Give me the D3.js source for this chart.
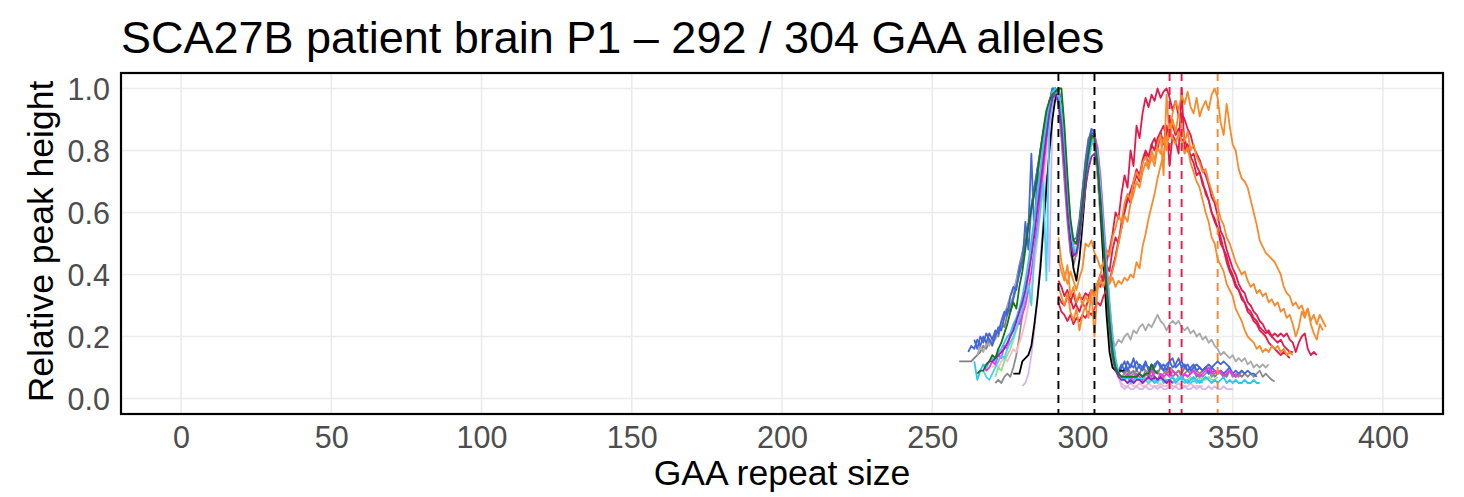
<!DOCTYPE html>
<html>
<head>
<meta charset="utf-8">
<script src="https://cdn.jsdelivr.net/npm/d3@7"></script>
<style>
  html, body { margin: 0; padding: 0; background: #ffffff; }
  svg { display: block; }
</style>
</head>
<body>
<svg id="chart" width="1464" height="497"></svg>
<script>
// ---------------- DATA ----------------
const titleText = "SCA27B patient brain P1 \u2013 292 / 304 GAA alleles";
const xLabel = "GAA repeat size";
const yLabel = "Relative peak height";
const xTickValues = [0, 50, 100, 150, 200, 250, 300, 350, 400];
const yTickValues = [0, 0.2, 0.4, 0.6, 0.8, 1.0];

// reference allele sizes (dashed vertical lines)
const blackAlleles = [292, 304];
const redAlleles = [329, 333];
const orangeAlleles = [345];

// each trace: first repeat size, then one relative height per repeat
const grey1X0 = 259;
const grey1 = [0.12,0.12,0.12,0.12,0.12,0.13,0.14,
  0.15,0.17,0.16,0.19,0.18,0.21,0.20,0.24,0.23,0.27,
  0.30,0.33,0.38,0.43,0.47,0.52,0.56,0.62,0.68,0.74,
  0.80,0.86,0.91,0.96,1.00,0.98,0.95,0.84,0.70,0.57,
  0.47,0.43,0.47,0.56,0.67,0.77,0.84,0.85,0.82,0.72,
  0.58,0.44,0.31,0.20,0.13,0.09,0.08,
  0.09,0.08,0.10,0.08,0.09,0.07,0.08,0.10,0.09,0.08,
  0.07,0.09,0.08,0.10,0.09,0.08,0.09,0.07,0.08,0.09,
  0.08,0.10,0.09,0.08,0.09,0.07,0.08,0.09,0.10,0.08,
  0.09,0.07,0.08,0.09,0.08,0.07,0.09,0.08,0.07,0.08,0.07,0.08];

const grey2X0 = 265;
const grey2 = [0.14,0.17,0.15,0.18,0.17,0.20,0.19,0.22,0.24,0.27,0.30,
  0.33,0.35,0.38,0.42,0.46,0.51,0.56,0.61,0.67,0.72,
  0.78,0.84,0.89,0.94,0.98,1.00,0.97,0.88,0.74,0.60,
  0.50,0.46,0.48,0.55,0.65,0.74,0.81,0.84,0.81,0.73,
  0.60,0.47,0.35,0.25,0.19,
  0.17,0.19,0.18,0.20,0.21,0.19,0.22,0.21,0.23,0.24,
  0.22,0.24,0.23,0.25,0.27,0.25,0.24,0.22,0.24,0.25,
  0.24,0.25,0.23,0.22,0.23,0.21,0.22,0.20,0.21,0.19,
  0.20,0.18,0.19,0.17,0.16,0.14,0.15,0.14,0.13,0.14,
  0.12,0.13,0.12,0.13,0.11,0.12,0.10,0.11,0.10,0.11,0.10,0.11];

const grey3X0 = 271;
const grey3 = [0.05,0.06,0.05,0.07,0.08,0.07,0.10,0.14,0.20,0.27,
  0.34,0.40,0.47,0.55,0.63,0.71,0.79,0.87,0.93,0.98,
  1.00,0.97,0.90,0.78,0.64,0.53,0.47,0.46,0.51,0.60,
  0.69,0.77,0.82,0.83,0.78,0.66,0.52,0.39,0.27,0.17,
  0.11,0.08,0.07,0.08,0.09,0.07,0.08,0.09,0.08,0.07,
  0.09,0.08,0.10,0.08,0.09,0.07,0.08,0.09,0.10,0.09,
  0.08,0.09,0.07,0.08,0.09,0.08,0.10,0.09,0.08,0.07,
  0.08,0.09,0.07,0.08,0.09,0.08,0.07,0.08,0.09,0.07,
  0.08,0.07,0.09,0.08,0.07,0.08,0.07,0.08,0.09,0.07,0.08,0.07,0.06,0.055];

const blue1X0 = 262;
const blue1 = [0.15,0.17,0.16,0.19,0.17,0.20,0.18,0.21,0.19,0.22,
  0.21,0.25,0.28,0.27,0.33,0.36,0.35,0.42,0.45,0.50,
  0.55,0.79,0.52,0.74,0.62,0.80,0.86,0.95,1.00,1.00,
  0.96,0.88,0.76,0.64,0.55,0.50,0.50,0.56,0.66,0.76,
  0.83,0.87,0.86,0.78,0.64,0.50,0.37,0.25,0.15,0.10,
  0.09,0.11,0.09,0.12,0.10,0.13,0.09,0.11,0.10,0.12,
  0.09,0.11,0.10,0.12,0.11,0.09,0.11,0.12,0.10,0.11,
  0.13,0.10,0.11,0.09,0.10,0.11,0.09,0.10,0.09,0.10,
  0.08,0.10,0.09,0.08,0.09,0.08,0.09,0.10,0.08,0.09,0.08,0.09,0.08,0.09,0.08,0.08,0.07];

const blue2X0 = 264;
const blue2 = [0.19,0.16,0.20,0.18,0.21,0.19,0.17,0.20,0.23,0.22,
  0.26,0.29,0.28,0.32,0.36,0.40,0.44,0.57,0.48,0.62,
  0.68,0.74,0.80,0.86,0.91,0.96,0.99,1.00,0.97,0.89,
  0.77,0.65,0.56,0.51,0.52,0.58,0.67,0.75,0.82,0.86,
  0.85,0.77,0.63,0.49,0.36,0.24,0.14,0.09,0.08,0.10,
  0.12,0.09,0.11,0.10,0.12,0.10,0.09,0.11,0.10,0.09,
  0.11,0.12,0.10,0.11,0.09,0.12,0.13,0.10,0.11,0.12,
  0.10,0.11,0.09,0.10,0.11,0.10,0.09,0.10,0.11,0.10,0.11,0.12,0.11,0.12,0.11,0.10];

const greenX0 = 265;
const green = [0.08,0.09,0.09,0.11,0.12,0.14,0.13,0.16,0.18,0.21,
  0.24,0.28,0.31,0.29,0.36,0.41,0.48,0.56,0.61,0.66,
  0.72,0.80,0.87,0.93,0.96,0.98,0.99,1.00,1.00,0.88,
  0.72,0.58,0.51,0.50,0.55,0.63,0.72,0.79,0.85,0.84,
  0.76,0.63,0.49,0.36,0.24,0.15,0.10,0.08,0.07,0.07,
  0.07,0.07,0.07,0.07,0.08,0.07,0.08,0.08,0.11,0.09,0.08];

const purpleX0 = 268;
const purple = [0.11,0.12,0.12,0.13,0.14,0.15,0.16,0.18,0.20,0.22,
  0.25,0.28,0.31,0.35,0.40,0.46,0.53,0.61,0.69,0.77,
  0.85,0.92,0.97,0.98,0.96,0.88,0.75,0.60,0.50,0.46,
  0.47,0.52,0.60,0.68,0.74,0.78,0.79,0.75,0.64,0.50,
  0.37,0.25,0.15,0.09,0.07,0.06,0.06,0.05,0.06,0.05,
  0.06,0.06,0.05,0.06,0.07,0.06,0.07,0.06,0.07,0.06,0.05,0.06,0.05];

const cyan1X0 = 264;
const cyan1 = [0.12,0.06,0.09,0.11,0.10,0.12,0.13,0.12,0.15,0.16,
  0.18,0.20,0.21,0.24,0.26,0.29,0.33,0.38,0.44,0.51,
  0.58,0.66,0.74,0.82,0.89,0.95,0.99,1.00,0.98,0.91,
  0.80,0.66,0.55,0.48,0.47,0.52,0.61,0.70,0.78,0.83,
  0.83,0.78,0.67,0.54,0.41,0.29,0.19,0.12,0.08,0.07,
  0.06,0.07,0.05,0.06,0.07,0.06,0.05,0.06,0.07,0.06,
  0.05,0.06,0.07,0.05,0.06,0.06,0.07,0.05,0.06,0.07,
  0.06,0.05,0.06,0.07,0.06,0.05,0.06,0.07,0.06,0.05,
  0.06,0.05,0.06,0.07,0.05,0.06,0.05,0.06,0.05,0.05,0.06,0.05,0.05,0.06,0.05,0.05];

const cyan2X0 = 267;
const cyan2 = [0.09,0.07,0.06,0.08,0.10,0.12,0.14,0.13,0.16,0.18,
  0.20,0.23,0.26,0.29,0.33,0.37,0.30,0.47,0.53,0.61,
  0.70,0.38,0.89,0.95,0.99,1.00,0.94,0.83,0.68,0.56,
  0.49,0.47,0.51,0.60,0.69,0.77,0.82,0.83,0.79,0.68,
  0.55,0.42,0.30,0.20,0.13,0.08,0.07,0.06,0.07,0.06,
  0.05,0.06,0.06,0.07,0.06,0.05,0.06,0.06,0.05,0.07,
  0.06,0.05,0.06,0.05,0.06,0.07,0.06,0.05,0.06,0.05,0.06,0.05,0.06,0.05];

const magentaX0 = 267;
const magenta = [0.11,0.09,0.10,0.12,0.11,0.14,0.13,0.17,0.16,0.21,
  0.22,0.25,0.24,0.27,0.30,0.35,0.41,0.48,0.56,0.65,
  0.74,0.83,0.91,0.96,0.99,0.98,0.92,0.80,0.67,0.56,
  0.50,0.50,0.55,0.63,0.72,0.79,0.84,0.85,0.81,0.71,
  0.57,0.43,0.30,0.19,0.12,0.08,0.07,0.07,0.08,0.06,
  0.07,0.08,0.07,0.06,0.08,0.07,0.09,0.07,0.06,0.08,
  0.07,0.08,0.07,0.09,0.08,0.07,0.06,0.08,0.07,0.08,
  0.09,0.08,0.07,0.08,0.09,0.10,0.08,0.09,0.08,0.09,0.07,0.08,0.09,0.08,0.07,0.08];

const pinkX0 = 270;
const pink = [0.10,0.11,0.10,0.12,0.13,0.12,0.14,0.16,0.15,0.18,
  0.21,0.25,0.30,0.36,0.43,0.51,0.60,0.69,0.78,0.87,
  0.94,0.98,0.99,0.93,0.81,0.67,0.56,0.50,0.50,0.55,
  0.63,0.71,0.78,0.83,0.84,0.80,0.70,0.57,0.44,0.31,
  0.20,0.12,0.07,0.05,0.04,0.04,0.05,0.04,0.04,0.05,
  0.04,0.04,0.05,0.04,0.04,0.04,0.05,0.04,0.04,0.05,
  0.04,0.04,0.05,0.04,0.04,0.04,0.05,0.04,0.04,0.04,0.04];

const thistleX0 = 280;
const thistle = [0.04,0.05,0.08,0.14,0.22,0.32,0.45,0.58,0.72,0.41,
  0.93,0.97,0.98,0.93,0.82,0.68,0.57,0.51,0.50,0.54,
  0.62,0.70,0.77,0.82,0.84,0.81,0.72,0.59,0.46,0.32,
  0.21,0.13,0.07,0.04,0.03,0.04,0.03,0.03,0.04,0.03,
  0.03,0.04,0.03,0.03,0.04,0.03,0.04,0.03,0.03,0.04,
  0.03,0.04,0.03,0.03,0.04,0.03,0.03,0.04,0.03,0.04,0.03,0.03,0.04,0.03,0.04,0.03,0.03,0.04,0.03,0.03,0.03];

const blackX0 = 277;
const black = [0.08,0.08,0.08,0.12,0.13,0.14,0.17,0.24,0.32,0.42,
  0.55,0.68,0.80,0.90,0.97,1.00,0.95,0.84,0.68,0.52,
  0.42,0.38,0.45,0.56,0.68,0.78,0.84,0.85,0.78,0.62,
  0.44,0.27,0.15,0.10,0.09,0.09,0.09,0.09];

const lightgreenX0 = 271;
const lightgreen = [0.07,0.10,0.09,0.12,0.14,0.16,0.19,0.22,0.25,0.29,
  0.34,0.40,0.47,0.55,0.63,0.72,0.81,0.88,0.94,0.98,
  1.00,0.98,0.91,0.80,0.66,0.55,0.49,0.49,0.54,0.62,
  0.71,0.78,0.83,0.84,0.79,0.68,0.55,0.42,0.29,0.18,
  0.11,0.07,0.06,0.06,0.07,0.06,0.06,0.07,0.06,0.06,
  0.07,0.06,0.06,0.07,0.06,0.06,0.07,0.06,0.06,0.07,0.06,0.06,0.07,0.06,0.06,0.07,0.06,0.06,0.07,0.06,0.06,0.07,0.06,0.06,0.07];

const redAX0 = 292;
const redA = [0.33,0.31,0.30,0.33,0.32,0.29,0.31,0.33,0.32,0.34,
  0.33,0.35,0.34,0.37,0.40,0.38,0.44,0.48,0.53,0.60,
  0.58,0.66,0.72,0.68,0.80,0.75,0.88,0.84,0.92,0.97,
  0.94,0.98,0.96,1.00,0.97,0.99,1.00,0.97,0.93,0.96,
  0.91,0.92,0.90,0.87,0.85,0.81,0.79,0.77,0.74,0.72,
  0.69,0.65,0.63,0.59,0.54,0.52,0.48,0.45,0.42,0.40,
  0.37,0.35,0.34,0.31,0.30,0.28,0.27,0.25,0.24,0.22,
  0.21,0.20,0.19,0.18,0.19,0.17,0.16,0.15,0.15];

const redBX0 = 292;
const redB = [0.38,0.36,0.33,0.35,0.31,0.34,0.30,0.28,0.31,0.29,
  0.32,0.35,0.33,0.37,0.36,0.40,0.43,0.41,0.48,0.52,
  0.50,0.57,0.61,0.65,0.63,0.69,0.72,0.70,0.76,0.79,
  0.75,0.82,0.80,0.84,0.86,0.82,0.88,0.75,0.85,0.83,
  0.79,1.00,0.80,0.82,0.78,0.76,0.72,0.73,0.69,0.67,
  0.64,0.60,0.58,0.55,0.50,0.48,0.44,0.41,0.39,0.36,
  0.35,0.32,0.31,0.28,0.27,0.25,0.24,0.22,0.21,0.20,
  0.18,0.17,0.16,0.15,0.14,0.15,0.14,0.13];

const redCX0 = 292;
const redC = [0.31,0.28,0.27,0.25,0.27,0.24,0.26,0.25,0.27,0.26,
  0.28,0.27,0.29,0.31,0.30,0.33,0.35,0.38,0.42,0.46,
  0.51,0.55,0.60,0.64,0.67,0.70,0.74,0.72,0.77,0.80,
  0.78,0.82,0.84,0.80,0.86,0.88,0.84,0.90,0.88,0.85,
  0.87,0.83,0.84,0.80,0.78,0.79,0.75,0.73,0.70,0.66,
  0.64,0.60,0.57,0.55,0.52,0.48,0.46,0.42,0.40,0.37,
  0.35,0.33,0.31,0.29,0.28,0.26,0.25,0.23,0.22,0.21,
  0.22,0.20,0.21,0.20,0.21,0.20,0.21,0.19,0.18,0.15,
  0.18,0.20,0.21,0.16,0.14,0.15,0.14];

const orangeAX0 = 292;
const orangeA = [0.36,0.33,0.30,0.34,0.28,0.25,0.29,0.22,0.27,0.30,
  0.26,0.34,0.20,0.35,0.38,0.36,0.40,0.37,0.39,0.36,
  0.38,0.37,0.39,0.38,0.40,0.39,0.44,0.42,0.49,0.53,
  0.58,0.62,0.66,0.71,0.75,0.79,0.84,0.87,0.92,0.96,
  0.93,0.98,0.95,0.99,0.94,0.92,0.97,0.91,0.94,0.96,
  0.93,0.98,1.00,0.97,0.89,0.85,0.95,0.88,0.82,0.80,
  0.74,0.71,0.70,0.68,0.64,0.60,0.56,0.51,0.49,0.47,
  0.46,0.45,0.44,0.42,0.40,0.36,0.34,0.33,0.30,0.31,
  0.29,0.30,0.27,0.29,0.25,0.27,0.24,0.27,0.25,0.23];

const orangeBX0 = 292;
const orangeB = [0.45,0.41,0.38,0.43,0.33,0.36,0.31,0.34,0.30,0.33,
  0.31,0.35,0.33,0.37,0.40,0.44,0.48,0.46,0.52,0.55,
  0.59,0.57,0.63,0.66,0.64,0.70,0.73,0.71,0.76,0.78,
  0.75,0.80,0.77,0.82,0.85,0.72,0.98,0.84,0.90,0.86,
  0.92,0.88,0.83,0.86,0.80,0.82,0.78,0.76,0.73,0.74,
  0.70,0.67,0.64,0.62,0.58,0.56,0.52,0.50,0.47,0.44,
  0.42,0.40,0.41,0.38,0.36,0.37,0.34,0.35,0.33,0.34,
  0.31,0.32,0.30,0.31,0.28,0.29,0.26,0.27,0.24,0.20,
  0.23,0.28,0.26,0.29,0.24,0.21,0.19,0.24,0.22];

const orangeCX0 = 292;
const orangeC = [0.52,0.44,0.40,0.37,0.41,0.38,0.35,0.39,0.42,0.50,
  0.49,0.51,0.47,0.45,0.42,0.44,0.40,0.38,0.41,0.45,
  0.50,0.55,0.59,0.57,0.63,0.66,0.70,0.68,0.73,0.76,
  0.74,0.78,0.75,0.81,0.79,0.84,0.80,0.88,0.84,0.82,
  0.86,0.83,0.79,0.81,0.76,0.73,0.70,0.68,0.64,0.60,
  0.57,0.52,0.50,0.45,0.43,0.41,0.37,0.35,0.33,0.29,
  0.27,0.25,0.22,0.20,0.19,0.18,0.16,0.17,0.15,0.16,
  0.15,0.17,0.16,0.17,0.15,0.16,0.14,0.15,0.14];

// ---------------- STYLES ----------------
const palette = {
  grey1: "#7f7f7f", grey2: "#a9a9a9", grey3: "#8c8c8c",
  blue: "#4366dc", green: "#167516", purple: "#9a21c2",
  cyan1: "#2ec6ef", cyan2: "#45d3f2", magenta: "#ff2bef",
  pink: "#ffb8c6", thistle: "#d2b6f5", black: "#000000",
  lightgreen: "#8fe28f", red: "#e5194b", orange: "#f98a2b"
};

// draw order (later = on top)
const traces = [
  [grey1X0, grey1, palette.grey1],
  [grey2X0, grey2, palette.grey2],
  [grey3X0, grey3, palette.grey3],
  [blue1X0, blue1, palette.blue],
  [blue2X0, blue2, palette.blue],
  [pinkX0, pink, palette.pink],
  [thistleX0, thistle, palette.thistle],
  [lightgreenX0, lightgreen, palette.lightgreen],
  [blackX0, black, palette.black],
  [redAX0, redA, palette.red],
  [redBX0, redB, palette.red],
  [redCX0, redC, palette.red],
  [orangeAX0, orangeA, palette.orange],
  [orangeBX0, orangeB, palette.orange],
  [orangeCX0, orangeC, palette.orange],
  [magentaX0, magenta, palette.magenta],
  [cyan2X0, cyan2, palette.cyan2],
  [cyan1X0, cyan1, palette.cyan1],
  [purpleX0, purple, palette.purple],
  [greenX0, green, palette.green]
];

// ---------------- CHART ----------------
const W = 1464, H = 497;
const panel = { left: 121, right: 1443, top: 73, bottom: 414 };
const font = "'Liberation Sans', Arial, Helvetica, sans-serif";

const svg = d3.select("#chart");
svg.append("rect").attr("width", W).attr("height", H).attr("fill", "#ffffff");

const x = d3.scaleLinear().domain([-20, 420]).range([panel.left, panel.right]);
const y = d3.scaleLinear().domain([-0.05, 1.05]).range([panel.bottom, panel.top]);

svg.append("defs").append("clipPath").attr("id", "clip")
  .append("rect")
  .attr("x", panel.left).attr("y", panel.top)
  .attr("width", panel.right - panel.left).attr("height", panel.bottom - panel.top);

// gridlines
const grid = svg.append("g");
grid.selectAll("line.gx").data(xTickValues).join("line")
  .attr("x1", d => x(d)).attr("x2", d => x(d))
  .attr("y1", panel.top).attr("y2", panel.bottom)
  .attr("stroke", "#ebebeb").attr("stroke-width", 1.6);
grid.selectAll("line.gy").data(yTickValues).join("line")
  .attr("y1", d => y(d)).attr("y2", d => y(d))
  .attr("x1", panel.left).attr("x2", panel.right)
  .attr("stroke", "#ebebeb").attr("stroke-width", 1.6);

// traces
const line = d3.line()
  .x(d => x(d[0]))
  .y(d => y(d[1]));

const plot = svg.append("g").attr("clip-path", "url(#clip)");
traces.forEach(([x0, vals, col]) => {
  const pts = vals.map((v, i) => [x0 + i, v]);
  plot.append("path")
    .attr("d", line(pts))
    .attr("fill", "none")
    .attr("stroke", col)
    .attr("stroke-width", 1.8)
    .attr("stroke-linejoin", "round");
});

// dashed allele lines
const vlines = [
  ...blackAlleles.map(v => [v, "#000000"]),
  ...redAlleles.map(v => [v, palette.red]),
  ...orangeAlleles.map(v => [v, palette.orange])
];
plot.selectAll("line.vl").data(vlines).join("line")
  .attr("x1", d => x(d[0])).attr("x2", d => x(d[0]))
  .attr("y1", panel.top).attr("y2", panel.bottom)
  .attr("stroke", d => d[1])
  .attr("stroke-width", 1.9)
  .attr("stroke-dasharray", "8,6");

// panel border
svg.append("rect")
  .attr("x", panel.left).attr("y", panel.top)
  .attr("width", panel.right - panel.left).attr("height", panel.bottom - panel.top)
  .attr("fill", "none").attr("stroke", "#000000").attr("stroke-width", 2.2);

// axes (labels only, no tick marks)
const xAxis = d3.axisBottom(x).tickValues(xTickValues).tickSize(0).tickPadding(0).tickFormat(d3.format("d"));
const gx = svg.append("g").attr("transform", `translate(0, ${panel.bottom})`).call(xAxis);
gx.select(".domain").remove();
gx.selectAll("text")
  .attr("y", 34).attr("dy", null)
  .attr("font-family", font).attr("font-size", 30.5).attr("fill", "#4d4d4d");

const yAxis = d3.axisLeft(y).tickValues(yTickValues).tickSize(0).tickPadding(0).tickFormat(d3.format(".1f"));
const gy = svg.append("g").attr("transform", `translate(${panel.left - 11}, 0)`).call(yAxis);
gy.select(".domain").remove();
gy.selectAll("text")
  .attr("x", 0).attr("dy", "0.36em")
  .attr("font-family", font).attr("font-size", 30.5).attr("fill", "#4d4d4d");

// titles
svg.append("text")
  .attr("x", panel.left).attr("y", 53)
  .attr("font-family", font).attr("font-size", 45).attr("fill", "#000000")
  .text(titleText);

svg.append("text")
  .attr("x", (panel.left + panel.right) / 2).attr("y", 485)
  .attr("text-anchor", "middle")
  .attr("font-family", font).attr("font-size", 35.5).attr("fill", "#000000")
  .text(xLabel);

svg.append("text")
  .attr("transform", `translate(53, ${(panel.top + panel.bottom) / 2 - 2}) rotate(-90)`)
  .attr("text-anchor", "middle")
  .attr("font-family", font).attr("font-size", 35.5).attr("fill", "#000000")
  .text(yLabel);
</script>
</body>
</html>
